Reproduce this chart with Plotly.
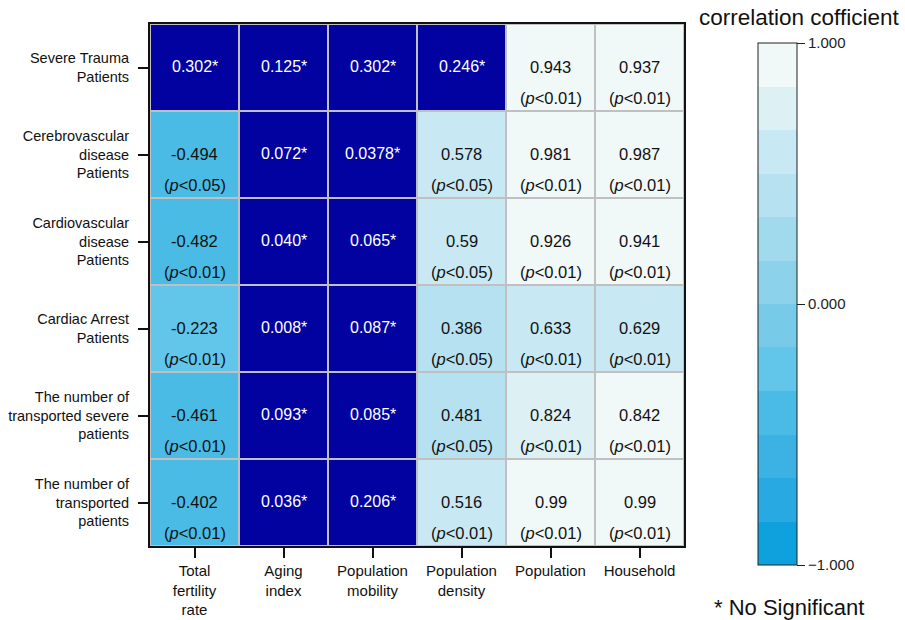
import plotly.graph_objects as go
import math

# ---------------- data ----------------
row_labels = [
    "Severe Trauma<br>Patients",
    "Cerebrovascular<br>disease<br>Patients",
    "Cardiovascular<br>disease<br>Patients",
    "Cardiac Arrest<br>Patients",
    "The number of<br>transported severe<br>patients",
    "The number of<br>transported<br>patients",
]
col_labels = [
    "Total<br>fertility<br>rate",
    "Aging<br>index",
    "Population<br>mobility",
    "Population<br>density",
    "Population",
    "Household",
]

# correlation coefficients (as printed)
r_severe_trauma = ["0.302", "0.125", "0.302", "0.246", "0.943", "0.937"]
r_cerebro = ["-0.494", "0.072", "0.0378", "0.578", "0.981", "0.987"]
r_cardio = ["-0.482", "0.040", "0.065", "0.59", "0.926", "0.941"]
r_arrest = ["-0.223", "0.008", "0.087", "0.386", "0.633", "0.629"]
r_transp_severe = ["-0.461", "0.093", "0.085", "0.481", "0.824", "0.842"]
r_transp = ["-0.402", "0.036", "0.206", "0.516", "0.99", "0.99"]

# p-value labels ("" = not significant)
p_severe_trauma = ["", "", "", "", "0.01", "0.01"]
p_cerebro = ["0.05", "", "", "0.05", "0.01", "0.01"]
p_cardio = ["0.01", "", "", "0.05", "0.01", "0.01"]
p_arrest = ["0.01", "", "", "0.05", "0.01", "0.01"]
p_transp_severe = ["0.01", "", "", "0.05", "0.01", "0.01"]
p_transp = ["0.01", "", "", "0.01", "0.01", "0.01"]

r_rows = [r_severe_trauma, r_cerebro, r_cardio, r_arrest, r_transp_severe, r_transp]
p_rows = [p_severe_trauma, p_cerebro, p_cardio, p_arrest, p_transp_severe, p_transp]

cbar_ticks = [-1, 0, 1]
cbar_ticklabels = ["\u22121.000", "0.000", "1.000"]

# ---------------- styles ----------------
band_colors = [  # bottom (-1) to top (+1), 12 bands
    "#0FA1DE", "#28A9E1", "#3CB1E3", "#4ABBE5", "#62C5EA", "#77CBE9",
    "#8CD2EB", "#A1D9ED", "#B5E1F0", "#C8E9F3", "#DDF0F4", "#F1F8F8",
]
navy = "#0202A0"
grid_gray = "#C0C0C0"
FONT = "Arial, Liberation Sans, sans-serif"

n = len(band_colors)
colorscale = []
for i, c in enumerate(band_colors):
    colorscale.append([i / n, c])
    colorscale.append([(i + 1) / n, c])

z_sig, z_ns = [], []
for rr, pr in zip(r_rows, p_rows):
    z_sig.append([float(v) if p else math.nan for v, p in zip(rr, pr)])
    z_ns.append([math.nan if p else 1 for v, p in zip(rr, pr)])

fig = go.Figure()
fig.add_trace(go.Heatmap(
    z=z_sig, x=col_labels, y=row_labels,
    zmin=-1, zmax=1, colorscale=colorscale,
    xgap=2, ygap=2, hoverinfo="skip",
    colorbar=dict(
        x=1.1386, xanchor="left", xpad=0,
        y=0.4636, yanchor="middle", len=1.0, lenmode="fraction", ypad=0,
        thickness=39, outlinecolor="#222", outlinewidth=1,
        tickmode="array", tickvals=cbar_ticks, ticktext=cbar_ticklabels,
        ticks="outside", ticklen=8, tickcolor="#222", tickwidth=1,
        tickfont=dict(family=FONT, size=15, color="#222"),
    ),
))
fig.add_trace(go.Heatmap(
    z=z_ns, x=col_labels, y=row_labels,
    zmin=0, zmax=1, colorscale=[[0, navy], [1, navy]],
    xgap=2, ygap=2, showscale=False, hoverinfo="skip",
))

annotations = []
for ri, (rr, pr) in enumerate(zip(r_rows, p_rows)):
    for ci, (v, p) in enumerate(zip(rr, pr)):
        if p:
            annotations.append(dict(
                x=col_labels[ci], y=row_labels[ri], xref="x", yref="y",
                text=v, showarrow=False, yshift=1,
                font=dict(family=FONT, size=16.5, color="#111"),
            ))
            annotations.append(dict(
                x=col_labels[ci], y=row_labels[ri], xref="x", yref="y",
                text="(<i>p</i>&lt;" + p + ")", showarrow=False, yshift=-30,
                font=dict(family=FONT, size=16.5, color="#111"),
            ))
        else:
            annotations.append(dict(
                x=col_labels[ci], y=row_labels[ri], xref="x", yref="y",
                text=v + "*", showarrow=False, yshift=1,
                font=dict(family=FONT, size=16, color="white"),
            ))

annotations.append(dict(
    x=1.0243, y=1.0115, xref="paper", yref="paper", xanchor="left", yanchor="middle",
    text="correlation cofficient", showarrow=False,
    font=dict(family=FONT, size=22.5, color="#111"),
))
annotations.append(dict(
    x=1.0524, y=-0.1169, xref="paper", yref="paper", xanchor="left", yanchor="middle",
    text="* No Significant", showarrow=False,
    font=dict(family=FONT, size=22, color="#111"),
))

fig.update_layout(
    width=905, height=620,
    margin=dict(l=150, r=221, t=24, b=74, autoexpand=False),
    paper_bgcolor="white", plot_bgcolor=grid_gray,
    annotations=annotations,
    font=dict(family=FONT, color="#111"),
)
fig.update_xaxes(
    type="category", showline=True, linecolor="#111", linewidth=2, mirror=True,
    ticks="outside", ticklen=10, tickcolor="#111", tickwidth=2,
    tickfont=dict(family=FONT, size=15, color="#111"),
    showgrid=False, zeroline=False,
)
fig.update_yaxes(
    type="category", autorange="reversed",
    showline=True, linecolor="#111", linewidth=2, mirror=True,
    ticks="outside", ticklen=10, tickcolor="#111", tickwidth=2,
    ticklabelstandoff=6,
    tickfont=dict(family=FONT, size=14.5, color="#111"),
    showgrid=False, zeroline=False,
)

fig.write_html(
    "out.html",
    config={"displayModeBar": False},
    post_script="document.body.style.margin='0';document.body.style.overflow='hidden';",
)
